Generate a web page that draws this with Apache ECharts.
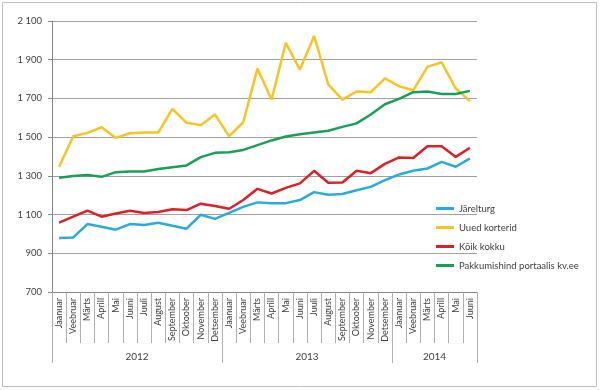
<!DOCTYPE html>
<html><head><meta charset="utf-8">
<script src="https://cdn.jsdelivr.net/npm/echarts@6/dist/echarts.min.js"></script>
<style>html,body{margin:0;padding:0;background:#fff}#c{width:600px;height:390px}</style>
</head><body><div id="c"></div>
<script>
const months = ['Jaanuar','Veebruar','Märts','Aprill','Mai','Juuni','Juuli','August','September','Oktoober','November','Detsember',
  'Jaanuar','Veebruar','Märts','Aprill','Mai','Juuni','Juuli','August','September','Oktoober','November','Detsember',
  'Jaanuar','Veebruar','Märts','Aprill','Mai','Juuni'];
const years = ['2012','2013','2014'];
const yearCenters = [6,18,27];
const yearBounds = [0,12,24,30];
const seriesNames = ['Järelturg','Uued korterid','Kõik kokku','Pakkumishind portaalis kv.ee'];
const jarelturg = [979,982,1051,1037,1022,1051,1046,1058,1042,1027,1099,1078,1109,1140,1163,1159,1159,1175,1216,1202,1206,1226,1243,1278,1307,1326,1338,1372,1347,1390];
const uuedKorterid = [1347,1505,1522,1551,1496,1520,1524,1524,1646,1574,1562,1617,1505,1577,1854,1694,1987,1849,2023,1773,1694,1736,1732,1804,1763,1742,1863,1887,1751,1686];
const koikKokku = [1058,1089,1120,1089,1106,1120,1108,1113,1127,1123,1156,1144,1130,1175,1233,1209,1238,1261,1326,1264,1266,1326,1314,1362,1395,1392,1453,1453,1398,1445];
const pakkumishind = [1290,1299,1304,1295,1319,1323,1323,1335,1345,1354,1397,1419,1422,1434,1459,1483,1503,1515,1524,1533,1553,1571,1617,1670,1698,1732,1736,1723,1723,1739];
const colors = ['#2baade','#f6c425','#dd1f26','#1d9e57'];

const font = 'Lato';
const data = [jarelturg, uuedKorterid, koikKokku, pakkumishind];
const chart = echarts.init(document.getElementById('c'));
chart.setOption({
  animation:false,
  textStyle:{fontFamily:font},
  graphic:[{type:'rect',shape:{x:2.5,y:2.5,width:594,height:384},style:{fill:'none',stroke:'#bfbfbf',lineWidth:1},silent:true}],
  grid:{left:52,right:123,top:21,bottom:98},
  legend:{orient:'vertical',left:431,top:197,icon:'rect',itemWidth:18,itemHeight:3,itemGap:6,
    textStyle:{fontFamily:font,fontSize:9.5,lineHeight:13,color:'#404040'},data:seriesNames},
  xAxis:[
    {type:'category',data:months,boundaryGap:true,position:'bottom',
     axisLine:{lineStyle:{color:'#868686'}},
     axisTick:{show:true,interval:0,length:51,lineStyle:{color:'#b0b0b0'}},
     axisLabel:{interval:0,rotate:90,margin:6,fontSize:9,color:'#404040',fontFamily:font},
     splitLine:{show:false}},
    {type:'value',min:0,max:30,position:'bottom',
     axisLine:{show:false},splitLine:{show:false},
     axisTick:{show:true,length:71,customValues:yearBounds,lineStyle:{color:'#b0b0b0'}},
     axisLabel:{show:true,customValues:yearCenters,margin:60,fontSize:10,color:'#404040',fontFamily:font,
       formatter:function(v){return years[yearCenters.indexOf(v)];}}}
  ],
  yAxis:{type:'value',min:700,max:2100,interval:200,
    axisLine:{show:true,lineStyle:{color:'#868686'}},
    axisTick:{show:true,length:4,lineStyle:{color:'#868686'}},
    axisLabel:{fontSize:9.5,color:'#404040',margin:10,fontFamily:font,
      formatter:function(v){return String(v).replace(/\B(?=(\d{3})+(?!\d))/g,' ');}},
    splitLine:{lineStyle:{color:'#a0a0a0'}}},
  series:data.map(function(d,i){return {name:seriesNames[i],type:'line',data:d,xAxisIndex:0,symbol:'none',
    lineStyle:{width:2.5,color:colors[i]},itemStyle:{color:colors[i]}};})
});
</script></body></html>
